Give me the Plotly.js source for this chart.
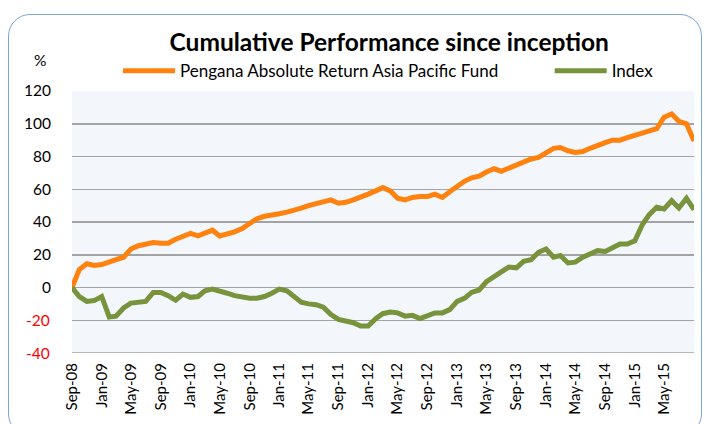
<!DOCTYPE html>
<html>
<head>
<meta charset="utf-8">
<script src="https://cdn.plot.ly/plotly-3.0.1.min.js"></script>
<style>
  html, body { margin: 0; padding: 0; background: #ffffff; }
  #wrap { position: relative; width: 705px; height: 424px; overflow: hidden; }
  #chart { position: absolute; left: 0; top: 0; width: 705px; height: 424px; }
  #frame { position: absolute; left: 8px; top: 14px; width: 692px; height: 420px;
           border: 1.5px solid #7ba4d8; border-radius: 22px; pointer-events: none; }
</style>
</head>
<body>
<div id="wrap">
  <div id="chart"></div>
  <div id="frame"></div>
</div>
<script>
// Monthly observation dates
const months = [
  "2008-09","2008-10","2008-11","2008-12",
  "2009-01","2009-02","2009-03","2009-04","2009-05","2009-06","2009-07","2009-08","2009-09","2009-10","2009-11","2009-12",
  "2010-01","2010-02","2010-03","2010-04","2010-05","2010-06","2010-07","2010-08","2010-09","2010-10","2010-11","2010-12",
  "2011-01","2011-02","2011-03","2011-04","2011-05","2011-06","2011-07","2011-08","2011-09","2011-10","2011-11","2011-12",
  "2012-01","2012-02","2012-03","2012-04","2012-05","2012-06","2012-07","2012-08","2012-09","2012-10","2012-11","2012-12",
  "2013-01","2013-02","2013-03","2013-04","2013-05","2013-06","2013-07","2013-08","2013-09","2013-10","2013-11","2013-12",
  "2014-01","2014-02","2014-03","2014-04","2014-05","2014-06","2014-07","2014-08","2014-09","2014-10","2014-11","2014-12",
  "2015-01","2015-02","2015-03","2015-04","2015-05","2015-06","2015-07","2015-08","2015-09"
];

// Pengana Absolute Return Asia Pacific Fund, cumulative %
const fundValues = [
  0, 11, 14.5, 13.5,
  14, 16, 17, 18.5, 23.5, 25.5, 26.5, 27.5, 27, 27, 29.5, 31,
  33, 31.5, 33, 35, 31.5, 32.5, 34, 36, 39.5, 42, 43.5, 44,
  45, 46, 47, 48.5, 50, 51, 52.5, 53.5, 51.5, 52, 53.5, 55,
  57, 59, 61, 59, 54.5, 53.5, 55, 55.5, 55.5, 57, 55, 58.5,
  62, 65, 67, 68, 70.5, 72.5, 71, 73, 74.5, 76.5, 78.5, 79.5,
  82, 85, 85.5, 83.5, 82.5, 83, 85, 87, 88.5, 90, 90, 91.5,
  93, 94.5, 96, 97, 104, 106, 101.5, 100, 89.5
];

// Index, cumulative %
const indexValues = [
  0, -5.5, -8.5, -8,
  -5.5, -18, -17.5, -12.5, -9.5, -9, -8.5, -3, -3, -5, -7.8, -4,
  -6, -5.5, -2, -1, -2, -3.5, -5, -6, -6.5, -6.5, -5.5, -3.5,
  -1, -2, -5.5, -9, -10, -10.5, -12, -16.5, -19.5, -20.5, -21.5, -23.5,
  -23.5, -19, -16, -15, -15.5, -17.5, -17, -19, -17, -15.5, -15.5, -13.5,
  -8.5, -6.5, -3, -1.5, 3.5, 7, 9.5, 12.5, 12, 16, 17, 21.5,
  23.5, 18.5, 19.5, 15, 15.5, 18.5, 20.5, 22.5, 22, 24.5, 26.5, 26.5,
  28.5, 38.5, 44.5, 49, 48, 53, 48.5, 54.5, 47.5
];

const seriesNames = ["Pengana Absolute Return Asia Pacific Fund", "Index"];

// X axis ticks (every 4 months)
const xTickVals = [
  "2008-09-01","2009-01-01","2009-05-01","2009-09-01","2010-01-01","2010-05-01","2010-09-01",
  "2011-01-01","2011-05-01","2011-09-01","2012-01-01","2012-05-01","2012-09-01","2013-01-01",
  "2013-05-01","2013-09-01","2014-01-01","2014-05-01","2014-09-01","2015-01-01","2015-05-01","2015-09-01"
];
const xTickText = [
  "Sep-08","Jan-09","May-09","Sep-09","Jan-10","May-10","Sep-10",
  "Jan-11","May-11","Sep-11","Jan-12","May-12","Sep-12","Jan-13",
  "May-13","Sep-13","Jan-14","May-14","Sep-14","Jan-15","May-15",""
];

// Y axis ticks (negative labels are shown in red)
const yTickVals = [-40, -20, 0, 20, 40, 60, 80, 100, 120];

const FONT = "Lato, 'Open Sans', sans-serif";

const traces = [
  {
    x: months, y: fundValues, name: seriesNames[0], type: "scatter", mode: "lines",
    line: { color: "#ff820f", width: 5 }, legend: "legend"
  },
  {
    x: months, y: indexValues, name: seriesNames[1], type: "scatter", mode: "lines",
    line: { color: "#77933c", width: 5 }, legend: "legend2"
  }
];

const xRange = ["2008-09-01", "2015-09-01"];
const yRange = [-40, 120];

// red labels for the negative ticks, placed on the y scale
const negLabels = yTickVals.filter(v => v < 0).map(v => ({
  text: String(v), xref: "paper", yref: "y", x: -0.0338, y: v,
  xanchor: "right", yanchor: "middle", showarrow: false, borderpad: 0,
  font: { family: FONT, size: 15.5, color: "#ff0000" }
}));

const layout = {
  width: 705, height: 424,
  margin: { l: 72, r: 11, t: 91, b: 71 },
  paper_bgcolor: "rgba(0,0,0,0)",
  plot_bgcolor: "#f3f6fb",
  font: { family: FONT, size: 14, color: "#000000" },
  title: {
    text: "<b>Cumulative Performance since inception</b>",
    font: { family: FONT, size: 24.5, color: "#000000" },
    x: 0.51, xref: "paper", xanchor: "center",
    y: 0.9, yref: "container", yanchor: "middle"
  },
  showlegend: true,
  legend: {
    orientation: "h", x: 0.074, y: 1.076, xanchor: "left", yanchor: "middle",
    itemwidth: 52,
    font: { family: FONT, size: 17, color: "#000000" }, bgcolor: "rgba(0,0,0,0)"
  },
  legend2: {
    orientation: "h", x: 0.768, y: 1.076, xanchor: "left", yanchor: "middle",
    itemwidth: 52,
    font: { family: FONT, size: 17, color: "#000000" }, bgcolor: "rgba(0,0,0,0)"
  },
  xaxis: {
    type: "date", range: xRange,
    tickmode: "array", tickvals: xTickVals, ticktext: xTickText,
    tickangle: -90, ticks: "", showgrid: false, showline: false, zeroline: false,
    tickfont: { family: FONT, size: 15, color: "#000000" },
    ticklabelstandoff: 6, fixedrange: true
  },
  xaxis2: {
    type: "date", range: xRange, overlaying: "x", anchor: "free", position: 0.25, side: "bottom",
    tickmode: "array", tickvals: xTickVals, showticklabels: false,
    ticks: "outside", ticklen: 5, tickwidth: 1, tickcolor: "#8c8c8c",
    showline: true, linecolor: "#8c8c8c", linewidth: 1.5,
    showgrid: false, zeroline: false
  },
  yaxis: {
    range: yRange, tickmode: "array", tickvals: yTickVals,
    ticktext: yTickVals.map(v => v < 0 ? "" : String(v)),
    ticks: "", showline: false, zeroline: false,
    showgrid: true, gridcolor: "#a3a3a3", gridwidth: 1.5,
    tickfont: { family: FONT, size: 15.5, color: "#000000" },
    ticklabelstandoff: 20
  },
  shapes: [
    { type: "line", xref: "paper", yref: "y", x0: 0, x1: 1, y0: yRange[0], y1: yRange[0],
      line: { color: "#a3a3a3", width: 1.5 } }
  ],
  annotations: [
    {
      text: "%", xref: "paper", yref: "paper", x: -0.0514, y: 1.118,
      xanchor: "center", yanchor: "middle", showarrow: false,
      font: { family: FONT, size: 15.5, color: "#000000" }
    }
  ].concat(negLabels)
};

Plotly.newPlot("chart", traces, layout, { displayModeBar: false, staticPlot: true });
</script>
</body>
</html>
